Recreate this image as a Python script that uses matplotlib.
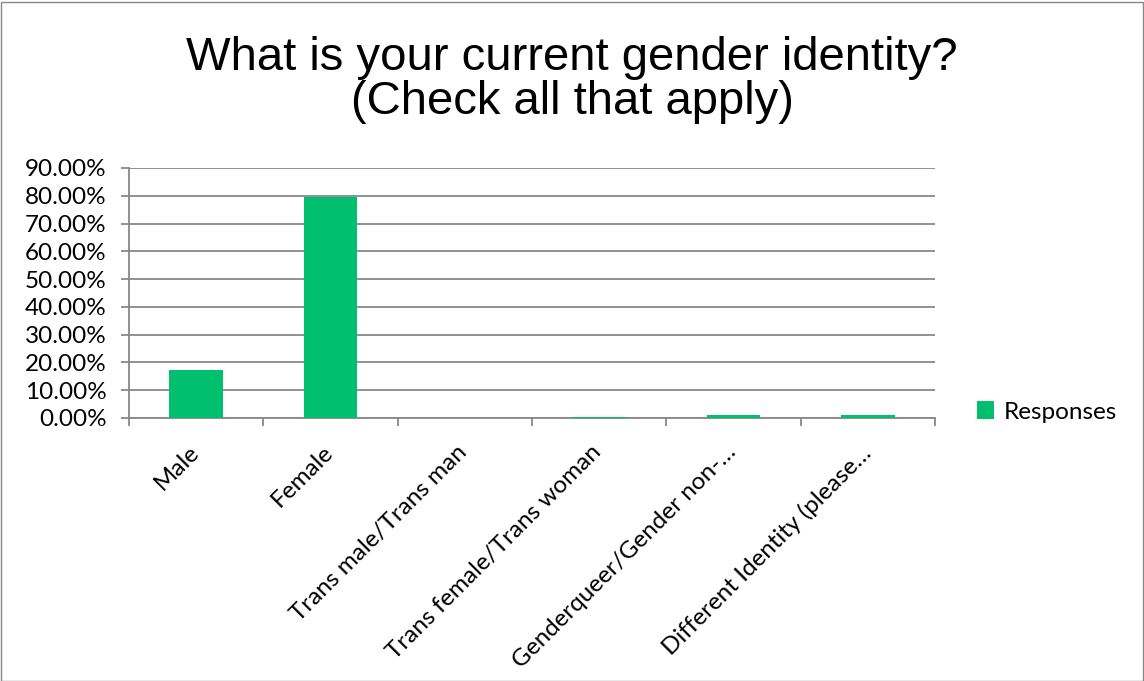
import matplotlib.pyplot as plt
from matplotlib.patches import Rectangle
from matplotlib.ticker import FuncFormatter

categories = ['Male', 'Female', 'Trans male/Trans man', 'Trans female/Trans woman',
              'Genderqueer/Gender non-…', 'Different Identity (please…']
responses = [0.173, 0.796, 0.0, 0.003, 0.012, 0.012]
yticks = [0.0, 0.1, 0.2, 0.3, 0.4, 0.5, 0.6, 0.7, 0.8, 0.9]

W, H = 1144, 681
fig = plt.figure(figsize=(W / 100, H / 100), dpi=100)
fig.patches.append(Rectangle((0.5 / W, 0.5 / H), 1 - 2 / W, 1 - 2 / H, transform=fig.transFigure,
                             fill=False, edgecolor='#888888', linewidth=1))

ax = fig.add_axes([129 / W, 1 - 418 / H, (935 - 129) / W, (418 - 168) / H])
green = '#00BF6F'
x = range(len(categories))
ax.bar(x, responses, width=0.4, color=green, label='Responses', zorder=3)

ax.set_xlim(-0.5, len(categories) - 0.5)
ax.set_ylim(0, 0.9)
ax.set_yticks(yticks)
ax.yaxis.set_major_formatter(FuncFormatter(lambda v, p: '%.2f%%' % (v * 100)))
ax.grid(axis='y', color='#888888', linewidth=1.3, zorder=0)
for s in ['top', 'right']:
    ax.spines[s].set_visible(False)
for s in ['left', 'bottom']:
    ax.spines[s].set_color('#888888')
    ax.spines[s].set_linewidth(1.3)

tick_font = 'Lato'
fs = 17.5
ax.tick_params(axis='y', length=6, color='#888888', width=1.3, labelsize=fs, pad=10)
for lbl in ax.get_yticklabels():
    lbl.set_fontfamily(tick_font)

# category boundary ticks on x
ax.set_xticks([i - 0.5 for i in range(len(categories) + 1)])
ax.set_xticklabels([])
ax.tick_params(axis='x', length=6, color='#888888', width=1.3)
for i, c in enumerate(categories):
    ax.annotate(c, xy=(i, 0), xycoords=('data', 'axes fraction'), xytext=(-6, -17),
                textcoords='offset points', rotation=45, ha='right', va='top',
                rotation_mode='anchor', fontsize=fs, family=tick_font)

fig.text(0.5, 1 - 80 / H, 'What is your current gender identity?\n(Check all that apply)',
         ha='center', va='center', fontsize=34, family='Liberation Sans', linespacing=1.0)

leg = fig.legend(loc='center left', bbox_to_anchor=(955 / W, 1 - 412 / H), frameon=False,
                 prop={'family': tick_font, 'size': fs}, handlelength=0.7, handleheight=0.7,
                 handletextpad=0.4)

fig.savefig('out.png', dpi=100)
